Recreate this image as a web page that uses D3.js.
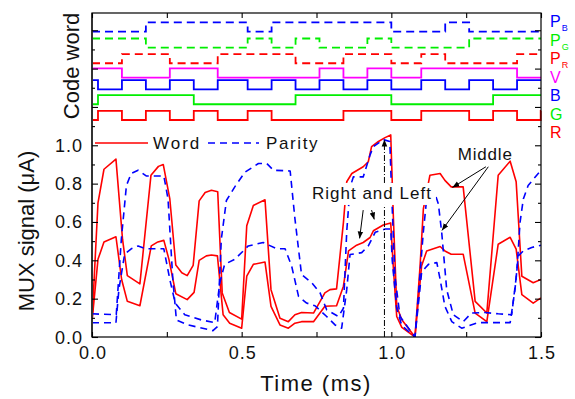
<!DOCTYPE html>
<html>
<head>
<meta charset="utf-8">
<script src="https://cdn.jsdelivr.net/npm/d3@7"></script>
<style>
  body { margin: 0; background: #fff; }
  svg text { font-family: Arial, "Liberation Sans", sans-serif; }
</style>
</head>
<body>
<div id="chart"></div>
<script>
// time axis (ms)
const xTicksMajor = [0, 0.5, 1.0, 1.5];
const xTicksMinor = [0.25, 0.75, 1.25];
const yTicksLabeled = [0, 0.2, 0.4, 0.6, 0.8, 1.0];

// code word traces: low level, initial state and toggle times
const codeNames = ['R', 'G', 'B', 'V', 'P_R', 'P_G', 'P_B'];
const codeColors = ['#ff0000', '#00ee00', '#0000ff', '#ff00ff', '#ff0000', '#00ee00', '#0000ff'];
const codeLow = [1.132, 1.214, 1.292, 1.353, 1.428, 1.509, 1.593];
const codeStart = [0, 0, 1, 1, 0, 1, 0];
const edgesR = [0.02, 0.10, 0.18, 0.26, 0.34, 0.42, 0.52, 0.60, 0.84, 1.00, 1.10, 1.26, 1.34, 1.42, 1.499];
const edgesG = [0.02, 0.34, 0.68, 1.00, 1.34];
const edgesB = [0.02, 0.10, 0.18, 0.26, 0.34, 0.42, 0.52, 0.60, 0.68, 0.76, 0.84, 0.92, 1.00, 1.10, 1.18, 1.26, 1.34, 1.42];
const edgesV = [0.10, 0.26, 0.42, 0.76, 0.84, 0.92, 1.00, 1.10, 1.42];
const edgesPR = [0.10, 0.26, 0.42, 0.68, 0.84, 1.00, 1.10, 1.18, 1.42];
const edgesPG = [0.18, 0.52, 0.60, 0.68, 0.76, 0.92, 1.00, 1.26];
const edgesPB = [0.18, 0.52, 0.60, 1.00, 1.18, 1.26];
const codeEdges = [edgesR, edgesG, edgesB, edgesV, edgesPR, edgesPG, edgesPB];

// MUX signal (uA): word (red) and parity (blue), middle and right/left pixels
const wordMidT = [0, 0.02, 0.04, 0.08, 0.102, 0.118, 0.16, 0.197, 0.222, 0.238, 0.26, 0.28, 0.3, 0.318, 0.338, 0.358, 0.378, 0.399, 0.42, 0.435, 0.459, 0.5, 0.517, 0.539, 0.578, 0.598, 0.628, 0.656, 0.678, 0.70, 0.74, 0.778, 0.795, 0.817, 0.84, 0.851, 0.868, 0.906, 0.923, 0.934, 0.957, 0.979, 0.998, 1.007, 1.018, 1.035, 1.079, 1.096, 1.107, 1.129, 1.163, 1.179, 1.2, 1.24, 1.28, 1.319, 1.357, 1.397, 1.417, 1.436, 1.474, 1.5];
const wordMidV = [0.08, 0.70, 0.875, 0.928, 0.51, 0.32, 0.277, 0.844, 0.89, 0.90, 0.72, 0.375, 0.335, 0.32, 0.374, 0.71, 0.754, 0.765, 0.758, 0.23, 0.128, 0.093, 0.58, 0.686, 0.716, 0.247, 0.098, 0.08, 0.116, 0.128, 0.125, 0.23, 0.247, 0.251, 0.598, 0.81, 0.853, 0.888, 0.914, 0.993, 1.02, 1.04, 1.054, 0.616, 0.16, 0.09, 0.0, 0.37, 0.668, 0.844, 0.853, 0.817, 0.783, 0.783, 0.186, 0.125, 0.844, 0.917, 0.81, 0.317, 0.283, 0.30];
const wordSideT = [0, 0.02, 0.04, 0.08, 0.099, 0.118, 0.16, 0.198, 0.22, 0.24, 0.257, 0.28, 0.318, 0.341, 0.358, 0.382, 0.399, 0.419, 0.438, 0.46, 0.5, 0.517, 0.539, 0.578, 0.598, 0.628, 0.656, 0.678, 0.70, 0.74, 0.778, 0.817, 0.84, 0.857, 0.884, 0.906, 0.929, 0.94, 0.973, 0.998, 1.007, 1.018, 1.035, 1.079, 1.101, 1.118, 1.163, 1.179, 1.2, 1.24, 1.28, 1.319, 1.357, 1.397, 1.417, 1.436, 1.474, 1.5];
const wordSideV = [0.08, 0.405, 0.496, 0.523, 0.30, 0.186, 0.163, 0.475, 0.496, 0.504, 0.405, 0.226, 0.195, 0.233, 0.40, 0.423, 0.428, 0.423, 0.116, 0.072, 0.046, 0.317, 0.379, 0.391, 0.16, 0.063, 0.046, 0.072, 0.08, 0.08, 0.16, 0.163, 0.265, 0.449, 0.479, 0.493, 0.519, 0.554, 0.584, 0.595, 0.353, 0.107, 0.05, 0.0, 0.37, 0.449, 0.472, 0.449, 0.432, 0.432, 0.125, 0.08, 0.484, 0.52, 0.458, 0.221, 0.177, 0.204];
const parityMidT = [0, 0.081, 0.098, 0.115, 0.131, 0.154, 0.181, 0.24, 0.254, 0.27, 0.282, 0.321, 0.404, 0.419, 0.432, 0.449, 0.477, 0.511, 0.556, 0.584, 0.606, 0.662, 0.678, 0.70, 0.734, 0.762, 0.784, 0.823, 0.84, 0.851, 0.862, 0.873, 0.906, 0.929, 0.94, 0.973, 0.995, 1.0, 1.012, 1.029, 1.079, 1.09, 1.107, 1.118, 1.145, 1.157, 1.168, 1.185, 1.207, 1.24, 1.268, 1.313, 1.357, 1.402, 1.419, 1.43, 1.441, 1.457, 1.5];
const parityMidV = [0.121, 0.116, 0.51, 0.79, 0.853, 0.87, 0.84, 0.84, 0.72, 0.30, 0.089, 0.063, 0.033, 0.054, 0.51, 0.712, 0.783, 0.86, 0.905, 0.905, 0.87, 0.866, 0.616, 0.326, 0.283, 0.23, 0.142, 0.107, 0.15, 0.55, 0.78, 0.835, 0.835, 0.95, 0.993, 1.03, 1.02, 0.79, 0.317, 0.107, 0.0, 0.212, 0.55, 0.72, 0.75, 0.695, 0.55, 0.247, 0.116, 0.08, 0.125, 0.128, 0.121, 0.116, 0.335, 0.598, 0.72, 0.79, 0.87];
const paritySideT = [0, 0.08, 0.09, 0.109, 0.131, 0.154, 0.181, 0.24, 0.26, 0.278, 0.31, 0.365, 0.41, 0.427, 0.443, 0.477, 0.522, 0.572, 0.617, 0.645, 0.667, 0.69, 0.717, 0.745, 0.784, 0.812, 0.834, 0.851, 0.862, 0.901, 0.923, 0.946, 0.979, 0.998, 1.003, 1.018, 1.035, 1.079, 1.101, 1.113, 1.124, 1.152, 1.163, 1.179, 1.202, 1.235, 1.29, 1.357, 1.397, 1.413, 1.424, 1.441, 1.469, 1.5];
const paritySideV = [0.074, 0.074, 0.25, 0.432, 0.46, 0.475, 0.46, 0.46, 0.30, 0.177, 0.116, 0.089, 0.075, 0.283, 0.379, 0.405, 0.475, 0.493, 0.46, 0.46, 0.37, 0.212, 0.177, 0.163, 0.107, 0.063, 0.046, 0.247, 0.43, 0.44, 0.475, 0.546, 0.563, 0.563, 0.40, 0.15, 0.06, 0.0, 0.335, 0.36, 0.379, 0.388, 0.30, 0.16, 0.08, 0.046, 0.075, 0.075, 0.075, 0.247, 0.423, 0.449, 0.467, 0.479];

const W = 575, H = 399;
const x = d3.scaleLinear().domain([0, 1.5]).range([92, 541]);
const y = d3.scaleLinear().domain([0, 1.69]).range([337, 13]);

const svg = d3.select('#chart').append('svg').attr('width', W).attr('height', H);
const defs = svg.append('defs');
defs.append('clipPath').attr('id', 'plotClip').append('rect')
  .attr('x', x(0)).attr('y', y(1.69)).attr('width', x(1.5) - x(0)).attr('height', y(0) - y(1.69));
defs.append('marker').attr('id', 'arrow').attr('viewBox', '0 0 10 10')
  .attr('refX', 10).attr('refY', 5).attr('markerWidth', 7).attr('markerHeight', 7)
  .attr('markerUnits', 'userSpaceOnUse').attr('orient', 'auto')
  .append('path').attr('d', 'M0,1 L10,5 L0,9 Z').attr('fill', '#000');

// code word step traces
const line = d3.line().x(d => x(d[0])).y(d => y(d[1]));
codeNames.forEach((name, i) => {
  let s = codeStart[i];
  const pts = [[0, codeLow[i] + s * 0.048]];
  codeEdges[i].forEach(e => {
    pts.push([e, codeLow[i] + s * 0.048]);
    s = 1 - s;
    pts.push([e, codeLow[i] + s * 0.048]);
  });
  pts.push([1.5, codeLow[i] + s * 0.048]);
  svg.append('path').attr('d', line(pts)).attr('fill', 'none')
    .attr('stroke', codeColors[i]).attr('stroke-width', 1.8)
    .attr('stroke-dasharray', name.startsWith('P') ? '8,5' : null);
});

// MUX signal curves
const curves = [
  { t: wordMidT, v: wordMidV, color: '#ff0000', dash: null },
  { t: wordSideT, v: wordSideV, color: '#ff0000', dash: null },
  { t: parityMidT, v: parityMidV, color: '#0000ff', dash: '7,5' },
  { t: paritySideT, v: paritySideV, color: '#0000ff', dash: '7,5' },
];
const g = svg.append('g').attr('clip-path', 'url(#plotClip)');
curves.forEach(c => {
  g.append('path').attr('d', line(c.t.map((t, i) => [t, c.v[i]])))
    .attr('fill', 'none').attr('stroke', c.color).attr('stroke-width', 1.6)
    .attr('stroke-dasharray', c.dash).attr('stroke-linejoin', 'round');
});

// vertical dash-dot marker near 1.0 ms
svg.append('line').attr('x1', x(0.977)).attr('x2', x(0.977)).attr('y1', y(0)).attr('y2', y(1.03))
  .attr('stroke', '#000').attr('stroke-width', 1).attr('stroke-dasharray', '6,2,1,2')
  .attr('marker-end', 'url(#arrow)');

// annotations
function label(txt, t, v, ls, box) {
  const el = svg.append('text').attr('x', x(t)).attr('y', y(v)).text(txt)
    .attr('font-size', 17).attr('letter-spacing', ls).attr('fill', '#111');
  if (box) {
    const b = el.node().getBBox();
    svg.insert('rect', () => el.node()).attr('x', b.x - 4).attr('y', b.y - 1)
      .attr('width', b.width + 8).attr('height', b.height + 3).attr('fill', '#fff');
  }
}
label('Right and Left', 0.735, 0.72, 1, true);
label('Middle', 1.222, 0.923, 0.8, false);
const arrows = [
  [0.906, 0.662, 0.894, 0.514],
  [0.934, 0.662, 0.943, 0.613],
  [1.316, 0.888, 1.204, 0.78],
  [1.324, 0.888, 1.169, 0.556],
];
arrows.forEach(a => {
  svg.append('line').attr('x1', x(a[0])).attr('y1', y(a[1])).attr('x2', x(a[2])).attr('y2', y(a[3]))
    .attr('stroke', '#000').attr('stroke-width', 1).attr('marker-end', 'url(#arrow)');
});

// legend
const leg = svg.append('g');
leg.append('line').attr('x1', 95).attr('x2', 148).attr('y1', 143).attr('y2', 143)
  .attr('stroke', '#ff0000').attr('stroke-width', 1.6);
leg.append('text').attr('x', 153).attr('y', 149).text('Word').attr('font-size', 17).attr('letter-spacing', 2).attr('fill', '#111');
leg.append('line').attr('x1', 208).attr('x2', 259).attr('y1', 143).attr('y2', 143)
  .attr('stroke', '#0000ff').attr('stroke-width', 1.6).attr('stroke-dasharray', '7,5');
leg.append('text').attr('x', 266).attr('y', 149).text('Parity').attr('font-size', 17).attr('letter-spacing', 1.6).attr('fill', '#111');

// frame and ticks
svg.append('rect').attr('x', x(0)).attr('y', y(1.69)).attr('width', x(1.5) - x(0)).attr('height', y(0) - y(1.69))
  .attr('fill', 'none').attr('stroke', '#000').attr('stroke-width', 1.2);
svg.append('line').attr('x1', x(0)).attr('x2', x(0)).attr('y1', y(0)).attr('y2', y(1.69))
  .attr('stroke', '#333').attr('stroke-width', 2);

const yMajor = d3.range(0, 1.61, 0.2), yMinor = d3.range(0.1, 1.7, 0.2);
const axL = svg.append('g').attr('transform', `translate(${x(0)},0)`)
  .call(d3.axisRight(y).tickValues(yMajor).tickSize(6).tickFormat(''));
axL.append('g').call(d3.axisRight(y).tickValues(yMinor).tickSize(3).tickFormat(''));
const axR = svg.append('g').attr('transform', `translate(${x(1.5)},0)`)
  .call(d3.axisLeft(y).tickValues(yMajor).tickSize(6).tickFormat(''));
axR.append('g').call(d3.axisLeft(y).tickValues(yMinor).tickSize(3).tickFormat(''));
const axB = svg.append('g').attr('transform', `translate(0,${y(0)})`)
  .call(d3.axisTop(x).tickValues(xTicksMajor.concat(xTicksMinor)).tickSize(5).tickFormat(''));
const axT = svg.append('g').attr('transform', `translate(0,${y(1.69)})`)
  .call(d3.axisBottom(x).tickValues(xTicksMajor.concat(xTicksMinor)).tickSize(5).tickFormat(''));
[axL, axR, axB, axT].forEach(a => {
  a.selectAll('.domain').remove();
  a.selectAll('line').attr('stroke', '#000').attr('stroke-width', 1.1);
});

// tick labels
svg.selectAll('.ylab').data(yTicksLabeled).enter().append('text')
  .attr('x', 83).attr('y', d => y(d) + 6.5).attr('text-anchor', 'end')
  .attr('font-size', 18).attr('letter-spacing', 1).attr('fill', '#111')
  .text(d => d.toFixed(1));
svg.selectAll('.xlab').data(xTicksMajor).enter().append('text')
  .attr('x', d => x(d) + 1).attr('y', 359).attr('text-anchor', 'middle')
  .attr('font-size', 18).attr('letter-spacing', 1).attr('fill', '#111')
  .text(d => d.toFixed(1));

// axis titles
svg.append('text').attr('x', 316).attr('y', 391).attr('text-anchor', 'middle')
  .attr('font-size', 22).attr('letter-spacing', 1.5).attr('fill', '#111').text('Time (ms)');
svg.append('text').attr('transform', 'translate(34,231) rotate(-90)').attr('text-anchor', 'middle')
  .attr('font-size', 22).attr('fill', '#111').text('MUX signal (\u03bcA)');
svg.append('text').attr('transform', 'translate(79,66) rotate(-90)').attr('text-anchor', 'middle')
  .attr('font-size', 22).attr('fill', '#111').text('Code word');

// code word labels at right
const rightLabels = codeNames.slice().reverse();
const rightColors = codeColors.slice().reverse();
rightLabels.forEach((name, i) => {
  const t = svg.append('text').attr('x', 550).attr('y', 27 + i * 18.5)
    .attr('font-size', 16).attr('fill', rightColors[i]);
  const parts = name.split('_');
  t.append('tspan').text(parts[0]);
  if (parts[1]) t.append('tspan').attr('font-size', 9).attr('dy', 4).attr('dx', 1).text(parts[1]);
});
</script>
</body>
</html>
